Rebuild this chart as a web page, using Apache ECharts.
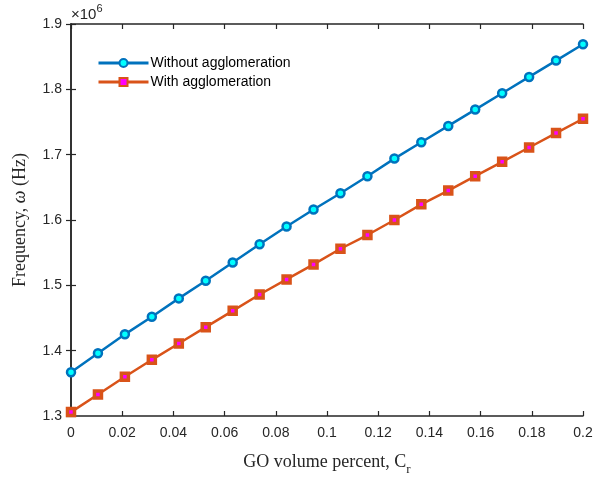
<!DOCTYPE html>
<html>
<head>
<meta charset="utf-8">
<script src="https://cdn.jsdelivr.net/npm/echarts@6/dist/echarts.min.js"></script>
<style>
  html, body { margin: 0; padding: 0; background: #fff; }
  #chart { width: 604px; height: 481px; }
</style>
</head>
<body>
<div id="chart"></div>
<script>
// GO volume percent (20 points from 0 to 0.2)
var nPts = 20;
var volumePercent = [];
for (var i = 0; i < nPts; i++) {
    volumePercent.push(+(i * 0.2 / (nPts - 1)).toFixed(5));
}

// frequency, x10^6 Hz
var withoutAgg = [1.367, 1.396, 1.425, 1.452, 1.480, 1.507, 1.535, 1.563, 1.590, 1.616,
                  1.641, 1.667, 1.694, 1.719, 1.744, 1.769, 1.794, 1.819, 1.844, 1.869];
var withAgg = [1.306, 1.333, 1.360, 1.386, 1.411, 1.436, 1.461, 1.486, 1.509, 1.532,
               1.556, 1.577, 1.600, 1.624, 1.645, 1.667, 1.689, 1.711, 1.733, 1.755];

var seriesNames = ['Without agglomeration', 'With agglomeration'];

function pairs(xs, ys) {
    var arr = [];
    for (var k = 0; k < xs.length; k++) arr.push([xs[k], ys[k]]);
    return arr;
}

var axisColor = '#262626';
var labelFont = { color: axisColor, fontSize: 14, fontFamily: 'Liberation Sans, Arial, sans-serif' };

var mychart = echarts.init(document.getElementById('chart'));

mychart.setOption({
    animation: false,
    grid: { left: 71, right: 21, top: 24, bottom: 62, containLabel: false },

    legend: {
        left: 92,
        top: 51,
        orient: 'vertical',
        itemWidth: 50,
        itemHeight: 10,
        itemGap: 5,
        data: seriesNames,
        lineStyle: { width: 3 },
        textStyle: { color: '#000', fontSize: 14, fontFamily: 'Liberation Sans, Arial, sans-serif', padding: [0, 0, 0, -3] }
    },

    graphic: [{
        type: 'text',
        left: 71,
        top: 3,
        style: {
            text: '{a|×10}{b|6}',
            rich: {
                a: { fontSize: 15, fill: axisColor, fontFamily: 'Liberation Sans, Arial, sans-serif', verticalAlign: 'bottom' },
                b: { fontSize: 11, fill: axisColor, fontFamily: 'Liberation Sans, Arial, sans-serif', verticalAlign: 'top', padding: [0, 0, 8, 0] }
            }
        }
    }],

    xAxis: [
        {
            type: 'value',
            min: 0, max: 0.2, interval: 0.02,
            position: 'bottom',
            name: '{n|GO volume percent, C}{s|r}',
            nameLocation: 'middle',
            nameGap: 33,
            nameTextStyle: {
                rich: {
                    n: { fontSize: 18, color: axisColor, fontFamily: 'Liberation Serif, Times New Roman, serif' },
                    s: { fontSize: 13, color: axisColor, fontFamily: 'Liberation Serif, Times New Roman, serif', padding: [14, 0, 0, 0] }
                }
            },
            axisLine: { show: true, lineStyle: { color: axisColor, width: 1.5 } },
            axisTick: { show: true, inside: true, length: 5, lineStyle: { color: axisColor, width: 1.2 } },
            axisLabel: Object.assign({ margin: 10 }, labelFont),
            splitLine: { show: false }
        },
        {
            type: 'value',
            min: 0, max: 0.2, interval: 0.02,
            position: 'top',
            axisLine: { show: true, lineStyle: { color: axisColor, width: 1.5 } },
            axisTick: { show: true, inside: true, length: 5, lineStyle: { color: axisColor, width: 1.2 } },
            axisLabel: { show: false },
            splitLine: { show: false }
        }
    ],

    yAxis: [
        {
            type: 'value',
            min: 1.3, max: 1.9, interval: 0.1,
            position: 'left',
            name: '{n|Frequency, }{w|ω}{n| (Hz)}',
            nameLocation: 'middle',
            nameRotate: 90,
            nameGap: 42,
            nameTextStyle: {
                rich: {
                    n: { fontSize: 18, color: axisColor, fontFamily: 'Liberation Serif, Times New Roman, serif' },
                    w: { fontSize: 18, color: axisColor, fontStyle: 'italic', fontFamily: 'Liberation Serif, Times New Roman, serif' }
                }
            },
            axisLine: { show: true, lineStyle: { color: axisColor, width: 1.5 } },
            axisTick: { show: true, inside: true, length: 5, lineStyle: { color: axisColor, width: 1.2 } },
            axisLabel: Object.assign({ margin: 9, formatter: function (v) { return v.toFixed(1); } }, labelFont),
            splitLine: { show: false }
        },
        {
            type: 'value',
            min: 1.3, max: 1.9, interval: 0.1,
            position: 'right',
            axisLine: { show: true, lineStyle: { color: axisColor, width: 1.5 } },
            axisTick: { show: true, inside: true, length: 5, lineStyle: { color: axisColor, width: 1.2 } },
            axisLabel: { show: false },
            splitLine: { show: false }
        }
    ],

    series: [
        {
            name: seriesNames[0],
            type: 'line',
            xAxisIndex: 0, yAxisIndex: 0,
            data: pairs(volumePercent, withoutAgg),
            symbol: 'circle',
            symbolSize: 8,
            lineStyle: { color: '#0072BD', width: 2.5 },
            itemStyle: { color: '#00FFFF', borderColor: '#0072BD', borderWidth: 2.5 },
            z: 3
        },
        {
            name: seriesNames[1],
            type: 'line',
            xAxisIndex: 0, yAxisIndex: 0,
            data: pairs(volumePercent, withAgg),
            symbol: 'rect',
            symbolSize: 7,
            lineStyle: { color: '#D95319', width: 2.5 },
            itemStyle: { color: '#FF00FF', borderColor: '#D95319', borderWidth: 3.5 },
            z: 3
        }
    ]
});
</script>
</body>
</html>
